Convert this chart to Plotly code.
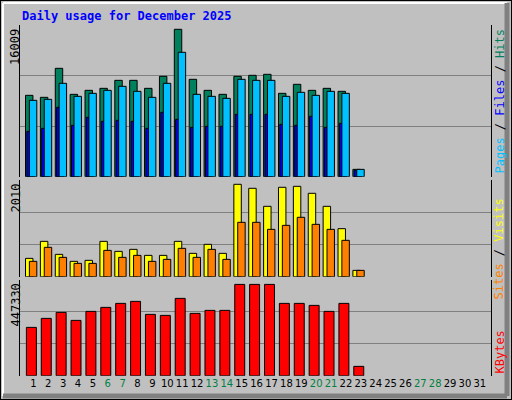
import plotly.graph_objects as go

days = list(range(1, 24))
all_days = list(range(1, 32))
weekend_days = [6, 7, 13, 14, 20, 21, 27, 28]

hits = [8838, 8620, 11771, 8946, 9381, 9598, 10467, 10467, 9598, 10902, 16009, 10576,
        9381, 8946, 10902, 11011, 11119, 9055, 10033, 9381, 9598, 9272, 797]
pages = [8294, 8403, 10142, 8729, 9055, 9381, 9816, 9272, 8620, 10142, 13510, 8946,
         8729, 8512, 10576, 10467, 10467, 8729, 9164, 8838, 9272, 9055, 797]
files = [4926, 5252, 7534, 5578, 6447, 6013, 6121, 6013, 5252, 6990, 6230, 5361,
         5469, 5469, 6773, 6773, 6773, 5687, 5578, 6556, 5361, 5795, 688]
visits = [399, 769, 486, 334, 356, 769, 551, 595, 464, 464, 769, 508, 704, 508,
          2010, 1923, 1531, 1945, 1966, 1814, 1531, 1045, 138]
sites = [334, 639, 421, 290, 290, 573, 421, 464, 334, 377, 617, 421, 595, 377,
         1183, 1183, 1030, 1117, 1292, 1139, 1030, 791, 138]
kbytes = [236727, 280807, 310194, 271012, 315092, 334683, 354274, 364070, 300398, 295501,
          378763, 305296, 319990, 319990, 447330, 447330, 447330, 354274, 354274, 344479,
          315092, 354274, 45713]

GREY = "#C0C0C0"
MONO = "DejaVu Sans Mono"
W, H = 512, 400


def py(px):
    # pixel row -> paper y
    return 1 - px / H


fig = go.Figure()
outline = dict(color="black", width=1)


def bar(y, color, off, w, axis):
    fig.add_trace(go.Bar(x=days, y=y, width=w, offset=off, marker=dict(color=color, line=outline),
                         xaxis="x", yaxis=axis, showlegend=False))


bar(hits, "#00805C", -0.53, 0.5, "y")
bar(files, "#0000FF", -0.44, 0.5, "y")
bar(pages, "#00C0FF", -0.27, 0.5, "y")
bar(visits, "#FFFF00", -0.53, 0.5, "y2")
bar(sites, "#FF8000", -0.27, 0.5, "y2")
bar(kbytes, "#FF0000", -0.47, 0.67, "y3")

# panel top = max value scaled by pixel headroom
r1 = max(hits) * 151.7 / 147.4
r2 = max(visits) * 96.7 / 92.4
r3 = max(kbytes) * 95.7 / 91.3


def yax(dom, r):
    return dict(domain=dom, range=[0, r], tickvals=[r / 3, 2 * r / 3], showticklabels=False,
                showgrid=True, gridcolor="#808080", gridwidth=1, zeroline=False, fixedrange=True,
                showline=True, linecolor="black", mirror=True, anchor="x")


ticktext = [f"<span style='color:#008040'>{d}</span>" if d in weekend_days else str(d) for d in all_days]

fig.update_layout(
    width=W, height=H, margin=dict(l=0, r=0, t=0, b=0),
    paper_bgcolor=GREY, plot_bgcolor=GREY, barmode="overlay",
    xaxis=dict(domain=[20 / W, 491 / W], range=[0.1, 31.75], tickvals=all_days, ticktext=ticktext,
               tickfont=dict(family="DejaVu Sans", size=10, color="black"), ticks="", tickangle=0,
               showgrid=False, zeroline=False, anchor="y3", fixedrange=True),
    yaxis=yax([py(176.7), py(25)], r1),
    yaxis2=yax([py(276.7), py(180)], r2),
    yaxis3=yax([py(375.7), py(280)], r3),
    shapes=[
        dict(type="rect", xref="paper", yref="paper", x0=0, x1=1, y0=0, y1=1,
             line=dict(color="black", width=2)),
        dict(type="line", xref="paper", yref="paper", x0=3 / W, x1=3 / W, y0=py(396), y1=py(3),
             line=dict(color="white", width=2)),
        dict(type="line", xref="paper", yref="paper", x0=3 / W, x1=507 / W, y0=py(3), y1=py(3),
             line=dict(color="white", width=2)),
        dict(type="line", xref="paper", yref="paper", x0=507 / W, x1=507 / W, y0=py(396), y1=py(3),
             line=dict(color="#808080", width=5)),
        dict(type="line", xref="paper", yref="paper", x0=3 / W, x1=507 / W, y0=py(396), y1=py(396),
             line=dict(color="#808080", width=5)),
    ],
    annotations=[
        dict(text="<b>Daily usage for December 2025</b>", x=20 / W, y=py(16), xref="paper", yref="paper",
             xanchor="left", yanchor="middle", showarrow=False,
             font=dict(family=MONO, size=12, color="#0000FF")),
        dict(text=str(max(hits)), x=15 / W, y=py(27), xref="paper", yref="paper", textangle=-90,
             xanchor="center", yanchor="top", showarrow=False, font=dict(family=MONO, size=12, color="black")),
        dict(text=str(max(visits)), x=15 / W, y=py(182), xref="paper", yref="paper", textangle=-90,
             xanchor="center", yanchor="top", showarrow=False, font=dict(family=MONO, size=12, color="black")),
        dict(text=str(max(kbytes)), x=15 / W, y=py(282), xref="paper", yref="paper", textangle=-90,
             xanchor="center", yanchor="top", showarrow=False, font=dict(family=MONO, size=12, color="black")),
        dict(text="<span style='color:#00C0FF'>Pages</span> / <span style='color:#0000FF'>Files</span>"
                  " / <span style='color:#00805C'>Hits</span>",
             x=499 / W, y=py(27), xref="paper", yref="paper", textangle=-90,
             xanchor="center", yanchor="top", showarrow=False, font=dict(family=MONO, size=12, color="black")),
        dict(text="<span style='color:#FF8000'>Sites</span> / <span style='color:#FFFF00'>Visits</span>",
             x=499 / W, y=py(197), xref="paper", yref="paper", textangle=-90,
             xanchor="center", yanchor="top", showarrow=False, font=dict(family=MONO, size=12, color="black")),
        dict(text="<span style='color:#FF0000'>KBytes</span>",
             x=499 / W, y=py(376), xref="paper", yref="paper", textangle=-90,
             xanchor="center", yanchor="bottom", showarrow=False, font=dict(family=MONO, size=12)),
    ],
)

fig.write_html("out.html", config={"staticPlot": True, "displayModeBar": False},
               post_script="document.body.style.margin='0';")
